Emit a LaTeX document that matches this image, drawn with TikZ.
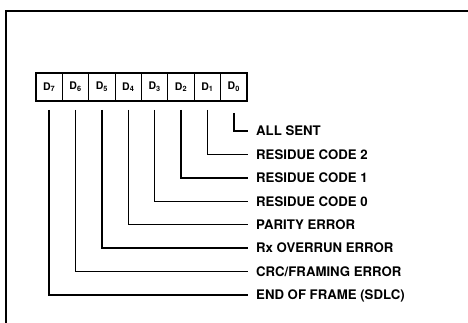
\documentclass[tikz,border=0pt]{standalone}
\usepackage{fontspec}
\setmainfont{TeX Gyre Heros}
\begin{document}
\begin{tikzpicture}[x=1pt,y=1pt,
  cell/.style={draw,line width=0.9pt,minimum width=26.375pt,minimum height=27pt,inner sep=0pt,
    font=\fontsize{10.5}{12}\selectfont\bfseries},
  lab/.style={anchor=west,inner xsep=8pt,inner ysep=0pt,text height=9.4pt,text depth=0pt,
    font=\fontsize{13.2}{15}\selectfont\bfseries},
  conn/.style={line width=1.4pt},
  frame/.style={line width=1.2pt}]
\useasboundingbox (0,0) rectangle (468,-322);
\draw[frame] (470,-11) -- (6,-11) -- (6,-324);
% register cells
\foreach \b [count=\i from 0] in {7,6,5,4,3,2,1,0}{
  \node[cell] (c\b) at (49.19+26.375*\i,-87) {D\textsubscript{\b}};
}
\draw[line width=2pt] (c7.north west) rectangle (c0.south east);
% start points
\foreach \b in {7,6,5,4,3,2,1}{
  \coordinate (s\b) at ([yshift=-9pt]c\b.south);
}
\coordinate (s0) at ([yshift=-12pt]c0.south);
% labels
\node[lab] (l0) at (248,-131) {ALL SENT};
\node[lab] (l1) at (248,-154.4) {RESIDUE CODE 2};
\node[lab] (l2) at (248,-177.9) {RESIDUE CODE 1};
\node[lab] (l3) at (248,-201.3) {RESIDUE CODE 0};
\node[lab] (l4) at (248,-224.7) {PARITY ERROR};
\node[lab] (l5) at (248,-248.1) {Rx OVERRUN ERROR};
\node[lab] (l6) at (248,-271.6) {CRC/FRAMING ERROR};
\node[lab] (l7) at (248,-295) {END OF FRAME (SDLC)};
\foreach \b in {0,...,7}{
  \draw[conn] (s\b) |- (l\b.west);
}
\end{tikzpicture}
\end{document}
